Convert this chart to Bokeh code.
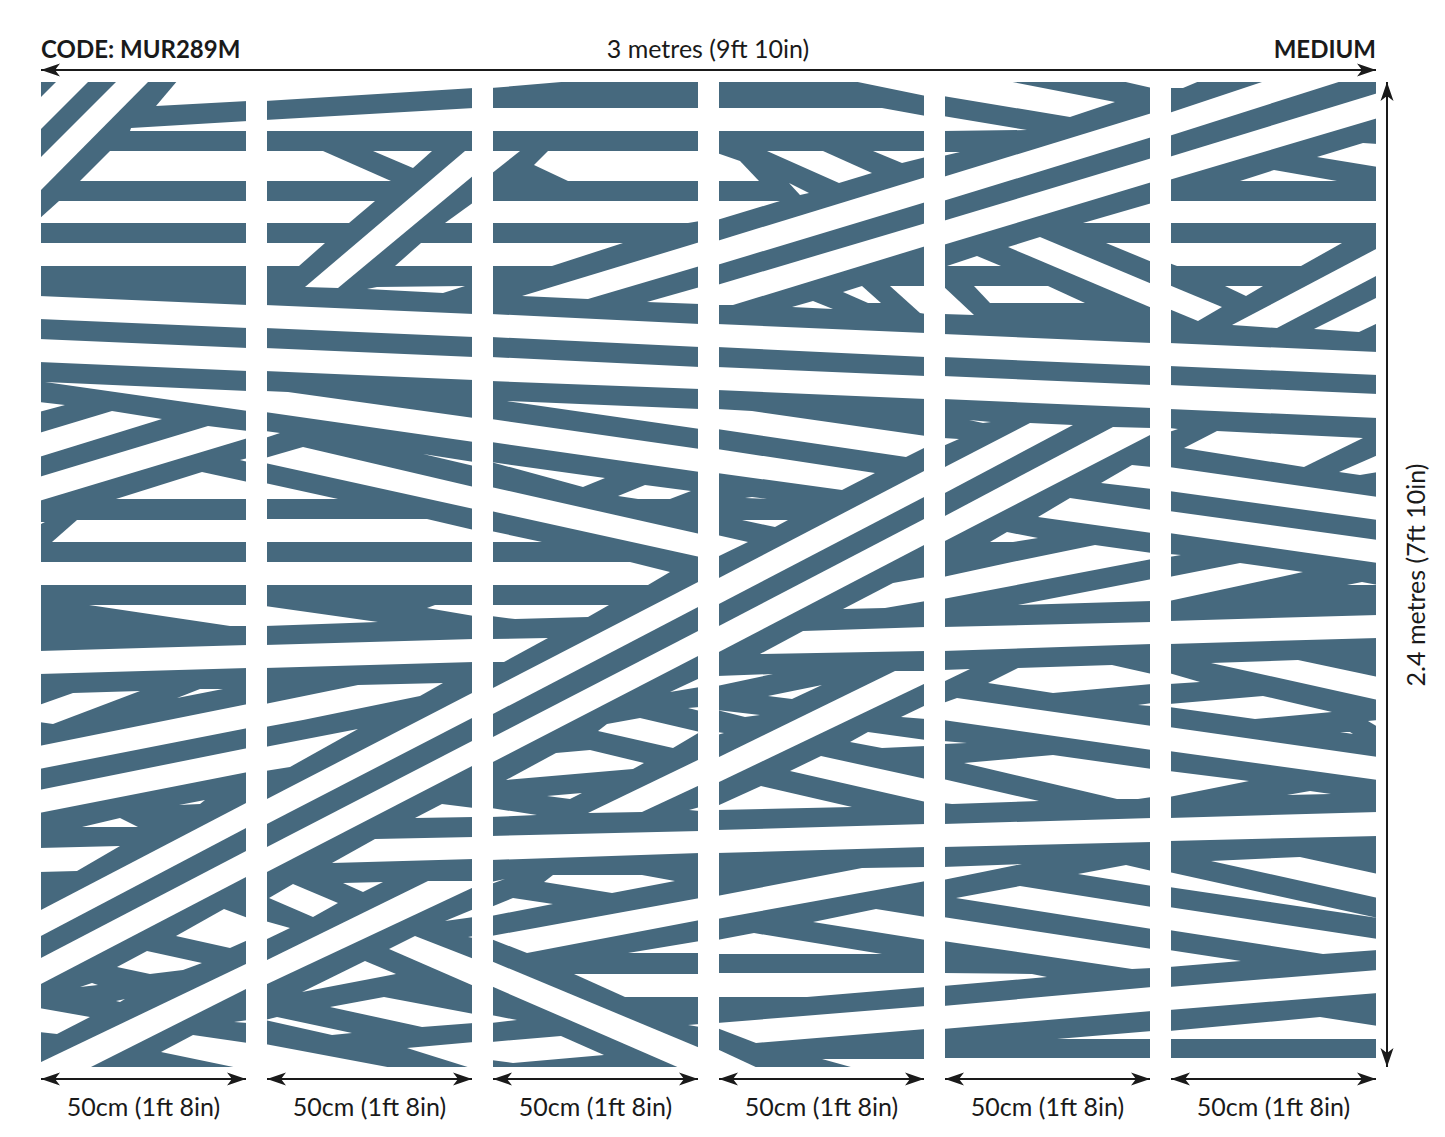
from bokeh.core.properties import value
from bokeh.embed import file_html
from bokeh.models import Range1d
from bokeh.plotting import figure
from bokeh.resources import INLINE
import math

PANEL_LEFT = [41, 267, 493, 719, 945, 1171]
PANEL_RIGHT = [246, 472, 698, 924, 1150, 1376]
PANEL_TOP = [82, 82, 82, 82, 82, 82]
PANEL_BOTTOM = [1067, 1067, 1067, 1067, 1058, 1058]

WHITE_P1 = [
 [(58,82),(90,82),(41,131),(41,99)],[(118,82),(150,82),(41,192),(41,159)],[(178,82),(246,82),(246,101),(156,106)],
 [(131,128),(246,121),(246,131),(130,131)],[(110,151),(246,151),(246,181),(80,181)],[(59,201),(246,201),(246,223),(41,223),(41,219)],
 [(41,243),(246,243),(246,266),(41,266)],[(41,296),(246,305),(246,328),(41,319)],[(41,339),(246,348),(246,371),(41,362)],
 [(45,382),(246,391),(246,411)],[(41,402),(65,405),(41,412)],[(112,411),(162,419),(41,457),(41,433)],
 [(208,426),(246,431),(246,438),(41,501),(41,477)],[(240,460),(246,458),(246,462)],[(202,472),(246,482),(246,499),(116,499)],
 [(41,522),(45,522),(41,525)],[(77,520),(246,520),(246,542),(52,542)],[(41,562),(246,562),(246,585),(41,585)],
 [(89,605),(246,605),(246,626),(230,626)],[(41,651),(246,645),(246,668),(41,674)],[(41,705),(73,693),(140,691),(53,724),(41,722)],
 [(177,698),(200,689),(223,689)],[(246,704),(246,728),(41,769),(41,746)],[(41,790),(246,748),(246,772),(41,813)],
 [(179,805),(205,800),(200,804)],[(82,827),(120,818),(138,827)],[(41,848),(120,846),(77,871),(41,872)],
 [(246,802),(246,827),(41,937),(41,911)],[(246,850),(246,876),(41,985),(41,959)],[(224,909),(246,918),(246,940),(230,948),(176,936)],
 [(147,951),(202,963),(183,970),(150,974),(117,967)],[(80,987),(92,983),(98,985)],[(116,1001),(125,999),(120,1002)],
 [(41,1008),(90,1017),(57,1034),(41,1032)],[(246,963),(246,988),(87,1067),(41,1067),(41,1063)],
 [(193,1035),(246,1043),(246,1067),(243,1067),(161,1052)],[(234,1022),(246,1020),(246,1023)],
]
WHITE_P2 = [
 [(267,82),(472,82),(472,88),(267,101)],[(267,120),(472,108),(472,131),(267,131)],[(267,151),(323,151),(391,181),(267,181)],
 [(373,151),(432,151),(413,168)],[(267,201),(375,201),(349,223),(267,223)],[(267,243),(325,243),(299,266),(267,266)],
 [(465,151),(472,151),(472,175),(338,288),(305,287)],[(445,223),(472,202),(472,223)],[(395,266),(421,243),(472,243),(472,266)],
 [(367,289),(377,287),(465,286),(443,293)],[(267,305),(472,314),(472,337),(267,328)],[(267,348),(472,357),(472,380),(267,371)],
 [(267,391),(288,392),(472,418),(472,442),(267,412)],[(267,431),(280,433),(267,438)],[(423,454),(472,462),(472,466)],
 [(267,458),(303,447),(472,487),(472,509),(267,463)],[(267,483),(338,499),(267,499)],[(267,519),(427,519),(472,530),(472,542),(267,542)],
 [(267,562),(472,562),(472,585),(267,585)],[(267,606),(378,622),(267,626)],[(427,608),(435,605),(472,605),(472,616)],
 [(267,645),(472,639),(472,662),(267,668)],[(267,704),(358,685),(443,683),(420,696),(303,720),(267,727)],
 [(267,747),(358,729),(290,767),(267,771)],[(472,692),(472,717),(267,825),(267,800)],[(267,848),(472,740),(472,765),(267,873)],
 [(415,818),(442,804),(472,808),(472,817)],[(332,863),(375,839),(472,837),(472,859)],[(343,883),(383,882),(363,892)],
 [(269,898),(293,884),(338,903),(313,917)],[(267,921),(290,928),(267,940)],[(428,881),(472,881),(472,887),(267,985),(267,961)],
 [(445,921),(472,909),(472,917)],[(468,937),(472,938),(472,936)],[(389,949),(415,936),(472,959),(472,986)],
 [(302,992),(365,961),(396,974)],[(330,1007),(384,997),(472,1014),(472,1023),(422,1027)],[(267,1020),(277,1017),(352,1033),(332,1035)],
 [(407,1048),(472,1042),(472,1067)],[(267,1044),(398,1067),(267,1067)],
]
WHITE_P3 = [
 [(493,82),(585,82),(493,88)],[(493,108),(698,108),(698,131),(493,131)],[(493,151),(520,151),(493,174)],
 [(548,151),(698,151),(698,181),(568,181),(534,165)],[(493,201),(698,201),(698,221),(688,223),(493,223)],
 [(493,243),(623,243),(552,266),(493,266)],[(698,242),(698,266),(588,299),(522,296)],[(647,302),(698,287),(698,304)],
 [(493,314),(698,324),(698,347),(493,337)],[(493,357),(698,367),(698,389),(493,381)],[(507,401),(698,409),(698,429)],
 [(493,419),(698,449),(698,472),(493,442)],[(493,462),(605,478),(583,487)],[(618,496),(645,485),(691,491),(670,499),(638,499)],
 [(493,487),(698,534),(698,557),(493,511)],[(493,531),(542,542),(493,542)],[(493,562),(630,562),(670,572),(648,585),(493,585)],
 [(493,605),(609,605),(588,617),(515,619),(493,616)],[(698,581),(698,606),(493,715),(493,689)],[(493,639),(548,638),(504,662),(493,662)],
 [(698,630),(698,655),(493,763),(493,738)],[(670,692),(698,678),(698,687)],[(688,708),(698,707),(698,711)],
 [(598,731),(607,724),(640,718),(698,732),(673,748)],[(506,780),(556,753),(590,750),(644,763),(633,769)],[(547,796),(582,793),(570,799)],
 [(698,759),(698,785),(642,812),(588,813)],[(493,808),(537,815),(493,817)],[(689,810),(698,807),(698,811)],
 [(493,836),(698,831),(698,853),(493,860)],[(493,882),(505,879),(493,884)],[(544,882),(553,875),(642,875),(675,881),(612,893)],
 [(493,907),(513,898),(553,904),(493,916)],[(493,936),(698,898),(698,920),(527,953),(493,939)],[(628,953),(698,941),(698,953)],
 [(574,974),(698,974),(698,997),(625,997)],[(493,961),(698,1048),(698,1067),(682,1067),(493,986)],[(688,1025),(698,1024),(698,1027)],
 [(493,1015),(517,1020),(493,1023)],[(493,1042),(561,1036),(604,1055),(513,1063),(493,1060)],
]
WHITE_P4 = [
 [(848,82),(924,82),(924,96)],[(719,108),(882,108),(924,116),(924,131),(719,131)],[(719,153),(740,161),(759,181),(719,181)],
 [(767,151),(823,151),(872,173),(839,183)],[(789,183),(809,193),(800,195)],[(873,151),(924,151),(924,157),(902,163)],
 [(719,201),(780,201),(719,220)],[(924,177),(924,202),(719,265),(719,241)],[(924,223),(924,246),(733,305),(719,305),(719,285)],
 [(843,292),(862,286),(881,303),(868,303)],[(792,307),(813,301),(833,309)],[(890,286),(924,286),(924,314),(920,313)],
 [(719,324),(924,333),(924,357),(719,347)],[(719,367),(924,376),(924,399),(719,390)],
 [(719,409),(752,411),(924,436),(924,447),(906,457),(719,429)],[(719,449),(875,473),(842,490),(719,473)],[(745,498),(752,497),(767,499)],
 [(742,520),(788,520),(775,527)],[(719,535),(748,542),(719,557)],[(924,470),(924,496),(719,605),(719,579)],
 [(924,518),(924,544),(719,653),(719,627)],[(843,609),(893,583),(924,577),(924,601),(885,608)],[(760,654),(803,631),(924,627),(924,651)],
 [(719,676),(773,674),(719,686)],[(768,696),(822,685),(792,699)],[(895,671),(924,671),(924,683),(719,783),(719,758)],
 [(719,710),(760,715),(745,717)],[(719,732),(724,733),(719,735)],[(850,742),(868,732),(924,740),(924,746),(882,748)],
 [(901,717),(924,705),(924,719)],[(790,771),(821,756),(924,779),(924,802)],[(719,806),(761,786),(852,807),(719,810)],
 [(719,830),(924,824),(924,847),(719,853)],[(719,896),(862,868),(924,867),(924,881),(719,919)],[(719,940),(754,933),(882,954),(719,954)],
 [(813,922),(876,909),(924,917),(924,940)],[(719,973),(924,973),(924,987),(807,997),(719,997)],
 [(719,1023),(924,1006),(924,1029),(756,1043),(719,1028)],[(719,1049),(760,1067),(719,1067)],[(822,1059),(924,1059),(924,1067),(858,1067)],
]
WHITE_P5 = [
 [(945,82),(1002,82),(1115,102),(1070,117),(945,96)],[(1117,82),(1150,82),(1150,88)],[(945,116),(1027,130),(945,131)],
 [(945,152),(960,152),(945,156)],[(1150,113),(1150,137),(945,201),(945,177)],[(1150,158),(1150,182),(945,245),(945,221)],
 [(1083,223),(1150,203),(1150,223)],[(1106,243),(1150,243),(1150,262)],[(1008,247),(1040,237),(1150,284),(1150,308)],
 [(947,266),(977,256),(1001,266)],[(974,286),(1048,286),(1085,303),(990,303)],[(945,286),(974,315),(945,314)],
 [(945,334),(1150,343),(1150,366),(945,357)],[(945,376),(1150,385),(1150,408),(945,399)],[(969,420),(991,422),(983,423)],
 [(945,438),(959,439),(945,446)],[(1030,423),(1073,425),(945,494),(945,468)],[(1113,427),(1150,428),(1150,434),(945,542),(945,517)],
 [(1101,483),(1132,465),(1150,467),(1150,489)],[(1038,517),(1070,498),(1150,510),(1150,533)],[(990,542),(1007,532),(1038,538),(1013,542)],
 [(945,577),(1012,562),(1095,545),(1150,553),(1150,559),(945,599)],[(1018,605),(1150,579),(1150,601)],
 [(945,627),(1150,622),(1150,644),(945,651)],[(945,670),(970,669),(945,682)],[(988,683),(1018,668),(1112,665),(1150,674),(1150,684),(1053,693)],
 [(945,703),(957,698),(1150,726),(1150,750),(945,720)],[(1138,705),(1150,703),(1150,706)],[(945,741),(967,743),(945,744)],
 [(964,763),(1053,755),(1150,769),(1150,797),(1138,799),(1117,799)],[(945,779),(1039,801),(952,804),(945,803)],
 [(945,824),(1150,818),(1150,842),(945,847)],[(945,867),(1022,864),(945,880)],[(1078,874),(1126,865),(1150,871),(1150,886)],
 [(956,898),(1020,886),(1150,907),(1150,929)],[(945,917),(1150,949),(1150,968),(1132,969),(945,941)],[(945,973),(1032,974),(1047,977),(945,986)],
 [(945,1006),(1150,987),(1150,1011),(945,1029)],[(1057,1039),(1150,1031),(1150,1039)],
]
WHITE_P6 = [
 [(1170,82),(1202,82),(1183,88),(1170,88)],[(1268,82),(1345,82),(1170,136),(1170,113)],[(1376,93),(1376,118),(1170,180),(1170,157)],
 [(1317,157),(1363,143),(1376,144),(1376,167)],[(1240,181),(1274,170),(1337,181)],[(1170,201),(1376,201),(1376,223),(1170,223)],
 [(1170,243),(1342,243),(1301,266),(1177,266),(1170,263)],[(1225,286),(1263,286),(1246,296)],[(1170,285),(1222,307),(1198,321),(1170,309)],
 [(1376,248),(1376,275),(1277,328),(1232,325)],[(1376,297),(1376,323),(1359,332),(1314,329)],[(1170,343),(1376,352),(1376,375),(1170,366)],
 [(1170,385),(1376,394),(1376,418),(1170,409)],[(1170,428),(1178,429),(1170,432)],[(1184,448),(1217,431),(1363,438),(1304,467)],
 [(1339,472),(1376,455),(1376,472),(1360,475)],[(1170,467),(1376,497),(1376,520),(1170,491)],[(1170,511),(1376,540),(1376,563),(1170,533)],
 [(1170,554),(1181,555),(1170,557)],[(1170,577),(1240,563),(1303,572),(1170,601)],[(1347,585),(1362,582),(1376,585)],
 [(1170,621),(1376,615),(1376,638),(1170,644)],[(1211,663),(1298,660),(1376,677),(1376,700)],[(1170,673),(1200,682),(1170,684)],
 [(1170,704),(1263,696),(1332,712),(1255,719),(1170,707)],[(1368,721),(1376,720),(1376,727)],[(1340,732),(1353,734),(1350,732)],
 [(1170,727),(1376,757),(1376,780),(1170,751)],[(1170,771),(1249,781),(1170,797)],[(1287,795),(1310,791),(1331,794)],
 [(1170,818),(1376,812),(1376,836),(1170,841)],[(1211,861),(1300,857),(1376,874),(1376,898)],[(1170,872),(1376,918),(1170,887)],
 [(1170,907),(1376,939),(1376,950),(1323,954),(1170,930)],[(1170,950),(1241,961),(1170,967)],[(1170,987),(1376,970),(1376,993),(1170,1010)],
 [(1170,1031),(1320,1017),(1376,1026),(1376,1039),(1170,1039)],
]

HEADER_LEFT = "CODE: MUR289M"
HEADER_RIGHT = "MEDIUM"
WIDTH_LABEL = "3 metres (9ft 10in)"
HEIGHT_LABEL = "2.4 metres (7ft 10in)"
PANEL_LABEL = "50cm (1ft 8in)"

BLUE = "#46697e"
INK = "#1a1a1a"
FONT = value("Lato")
HEAD_LEN, HEAD_HALF, HEAD_NOTCH = 19, 6.5, 14
W, H = 1440, 1130
SHIFT = 0.5

p = figure(width=W, height=H, x_range=Range1d(SHIFT, W + SHIFT), y_range=Range1d(H + SHIFT, SHIFT),
           x_axis_type=None, y_axis_type=None, toolbar_location=None, output_backend="svg",
           min_border=0, outline_line_color=None, background_fill_color="white")
p.grid.visible = False

p.quad(left=PANEL_LEFT, right=PANEL_RIGHT, top=PANEL_TOP, bottom=PANEL_BOTTOM,
       fill_color=BLUE, line_color=None)


def bleed(points, left, right, top, bottom):
    """Push edge points past the panel so no antialiased rim is left."""
    out = []
    for x, y in points:
        x = left - 2 if x <= left else right + 2 if x >= right else x
        y = top - 2 if y <= top else bottom + 2 if y >= bottom else y
        out.append((x, y))
    return out


xs, ys = [], []
for i, group in enumerate([WHITE_P1, WHITE_P2, WHITE_P3, WHITE_P4, WHITE_P5, WHITE_P6]):
    for shape in group:
        pts = bleed(shape, PANEL_LEFT[i], PANEL_RIGHT[i], PANEL_TOP[i], PANEL_BOTTOM[i])
        xs.append([q[0] for q in pts])
        ys.append([q[1] for q in pts])
p.patches(xs=xs, ys=ys, fill_color="white", line_color=None)

ARROWS = [(PANEL_LEFT[0], 70, PANEL_RIGHT[-1], 70), (1387, PANEL_TOP[-1], 1387, PANEL_BOTTOM[0])]
ARROWS += [(l, 1079, r, 1079) for l, r in zip(PANEL_LEFT, PANEL_RIGHT)]
p.segment(x0=[a[0] for a in ARROWS], y0=[a[1] for a in ARROWS], x1=[a[2] for a in ARROWS], y1=[a[3] for a in ARROWS],
          line_color=INK, line_width=2)
hx, hy = [], []
for x0, y0, x1, y1 in ARROWS:
    d = math.hypot(x1 - x0, y1 - y0)
    ux, uy = (x1 - x0) / d, (y1 - y0) / d
    for tx, ty, sx, sy in ((x1, y1, -ux, -uy), (x0, y0, ux, uy)):
        nx, ny = -sy, sx
        hx.append([tx, tx + sx * HEAD_LEN + nx * HEAD_HALF, tx + sx * HEAD_NOTCH, tx + sx * HEAD_LEN - nx * HEAD_HALF])
        hy.append([ty, ty + sy * HEAD_LEN + ny * HEAD_HALF, ty + sy * HEAD_NOTCH, ty + sy * HEAD_LEN - ny * HEAD_HALF])
p.patches(xs=hx, ys=hy, fill_color=INK, line_color=None)

p.text(x=[41], y=[48], text=[HEADER_LEFT], text_font=FONT, text_font_style="bold", text_font_size="24px",
       text_color=INK, text_align="left", text_baseline="middle")
p.text(x=[PANEL_RIGHT[-1]], y=[48], text=[HEADER_RIGHT], text_font=FONT, text_font_style="bold", text_font_size="24px",
       text_color=INK, text_align="right", text_baseline="middle")
p.text(x=[708], y=[48], text=[WIDTH_LABEL], text_font=FONT, text_font_size="25px",
       text_color=INK, text_align="center", text_baseline="middle")
p.text(x=[1415], y=[575], text=[HEIGHT_LABEL], text_font=FONT, text_font_size="25px", angle=[math.pi / 2],
       text_color=INK, text_align="center", text_baseline="middle")
p.text(x=[(l + r) / 2 for l, r in zip(PANEL_LEFT, PANEL_RIGHT)], y=[1106] * 6, text=[PANEL_LABEL] * 6,
       text_font=FONT, text_font_size="25px", text_color=INK, text_align="center", text_baseline="middle")

open("out.html", "w").write(file_html(p, INLINE))
